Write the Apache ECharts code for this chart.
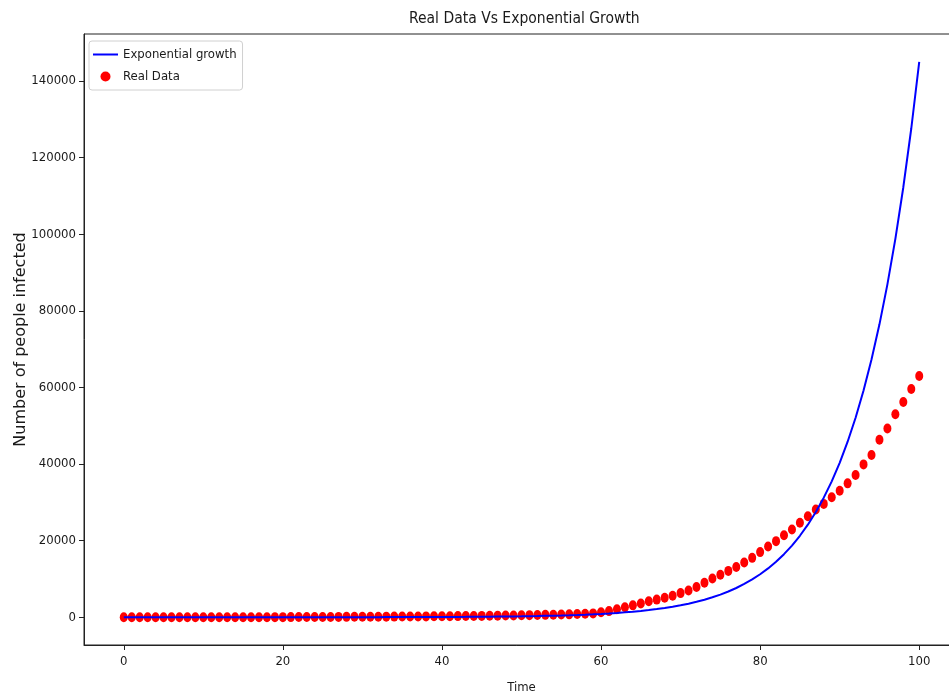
<!DOCTYPE html>
<html>
<head>
<meta charset="utf-8">
<script src="https://cdn.jsdelivr.net/npm/echarts@6/dist/echarts.min.js"></script>
<style>
html,body{margin:0;padding:0;background:#fff;}
#chart{width:949px;height:698px;}
</style>
</head>
<body>
<div id="chart"></div>
<script>
// ---- data ----
var timeValues = [];
for (var i = 0; i <= 100; i++) timeValues.push(i);

var expGrowth = [
  0.4, 0.4, 0.5, 0.6, 0.7, 0.8, 0.9, 1, 1.1, 1.3,
  1.5, 1.6, 1.9, 2.1, 2.4, 2.7, 3.1, 3.5, 4, 4.6,
  5.2, 5.9, 6.7, 7.6, 8.6, 10, 11, 13, 14, 16,
  19, 21, 24, 27, 31, 35, 40, 46, 52, 59,
  67, 76, 87, 98, 112, 127, 144, 164, 187, 212,
  241, 274, 311, 354, 402, 457, 519, 590, 671, 762,
  866, 985, 1119, 1272, 1445, 1643, 1867, 2122, 2412, 2741,
  3115, 3540, 4025, 4575, 5200, 5910, 6720, 7630, 8680, 9860,
  11210, 12740, 14480, 16460, 18700, 21260, 24160, 27460, 31210, 35470,
  40320, 45820, 52080, 59190, 67270, 76460, 86900, 98760, 112250, 127580,
  145000
];

var realData = [
  0, 0, 0, 0, 0, 0, 0, 0, 0, 2,
  3, 3, 3, 3, 3, 5, 5, 10, 17, 21,
  25, 30, 40, 50, 60, 70, 80, 90, 100, 110,
  120, 130, 140, 150, 160, 175, 190, 205, 220, 235,
  250, 270, 290, 310, 330, 350, 380, 410, 440, 470,
  500, 540, 580, 620, 660, 700, 750, 820, 920, 1000,
  1300, 1600, 2100, 2600, 3100, 3600, 4150, 4600, 5100, 5600,
  6300, 7000, 7900, 9000, 10100, 11100, 12100, 13100, 14300, 15500,
  17000, 18470, 19860, 21420, 22900, 24640, 26360, 28100, 29590, 31300,
  33000, 34950, 37130, 39900, 42330, 46320, 49270, 53000, 56200, 59600,
  62970
];

var xTicks = [0, 20, 40, 60, 80, 100];
var yTicks = [0, 20000, 40000, 60000, 80000, 100000, 120000, 140000];

var titleText = 'Real Data Vs Exponential Growth';
var xName = 'Time';
var yName = 'Number of people infected';
var lineName = 'Exponential growth';
var scatterName = 'Real Data';

// ---- chart ----
var NARROW = "'Liberation Sans Narrow', 'DejaVu Sans Condensed', sans-serif";
var chart = echarts.init(document.getElementById('chart'), null, {renderer: 'canvas'});

var lineData = timeValues.map(function (t, i) { return [t, expGrowth[i]]; });
var scatterData = timeValues.map(function (t, i) { return [t, realData[i]]; });
var plain = function (v) { return String(v); };

chart.setOption({
  animation: false,
  backgroundColor: '#ffffff',
  title: {
    text: titleText,
    left: 404,
    top: 6,
    textStyle: {fontFamily: NARROW, fontSize: 15.5, fontWeight: 'normal', color: '#1a1a1a'}
  },
  legend: {
    orient: 'vertical',
    left: 89,
    top: 41,
    padding: [7, 6, 7, 4],
    itemGap: 9,
    itemWidth: 25,
    itemHeight: 10,
    backgroundColor: '#ffffff',
    borderColor: '#d0d0d0',
    borderWidth: 1,
    borderRadius: 3,
    textStyle: {fontFamily: NARROW, fontSize: 13, color: '#1a1a1a'},
    data: [
      {name: lineName, icon: 'path://M0,0H25V2H0Z'},
      {name: scatterName, icon: 'circle'}
    ]
  },
  grid: {
    left: 84,
    top: 34,
    width: 875,
    height: 611,
    containLabel: false,
    outerBoundsMode: 'none',
    show: true,
    borderColor: '#222222',
    borderWidth: 1,
    backgroundColor: 'transparent'
  },
  xAxis: {
    type: 'value',
    min: -5,
    max: 105,
    name: xName,
    nameLocation: 'middle',
    nameGap: 36,
    nameMoveOverlap: false,
    nameTextStyle: {fontFamily: NARROW, fontSize: 13, color: '#1a1a1a'},
    axisLine: {show: true, onZero: false, lineStyle: {color: '#222222', width: 1}},
    axisTick: {show: true, length: 5, customValues: xTicks, lineStyle: {color: '#222222'}},
    axisLabel: {customValues: xTicks, formatter: plain, margin: 10, fontFamily: NARROW, fontSize: 13, color: '#1a1a1a'},
    splitLine: {show: false}
  },
  yAxis: {
    type: 'value',
    min: -7250,
    max: 152250,
    name: yName,
    nameLocation: 'middle',
    nameGap: 55,
    nameRotate: 90,
    nameMoveOverlap: false,
    nameTextStyle: {fontFamily: "'DejaVu Sans', sans-serif", fontSize: 16, color: '#1a1a1a'},
    axisLine: {show: true, onZero: false, lineStyle: {color: '#222222', width: 1}},
    axisTick: {show: true, length: 5, customValues: yTicks, lineStyle: {color: '#222222'}},
    axisLabel: {customValues: yTicks, formatter: plain, margin: 8, fontFamily: NARROW, fontSize: 13, color: '#1a1a1a'},
    splitLine: {show: false}
  },
  series: [
    {
      name: lineName,
      type: 'line',
      data: lineData,
      symbol: 'none',
      showSymbol: false,
      z: 3,
      lineStyle: {color: '#0000ff', width: 2},
      itemStyle: {color: '#0000ff'}
    },
    {
      name: scatterName,
      type: 'scatter',
      data: scatterData,
      symbol: 'circle',
      symbolSize: [8, 10],
      z: 2,
      itemStyle: {color: '#ff0000', opacity: 1}
    }
  ]
});
</script>
</body>
</html>
